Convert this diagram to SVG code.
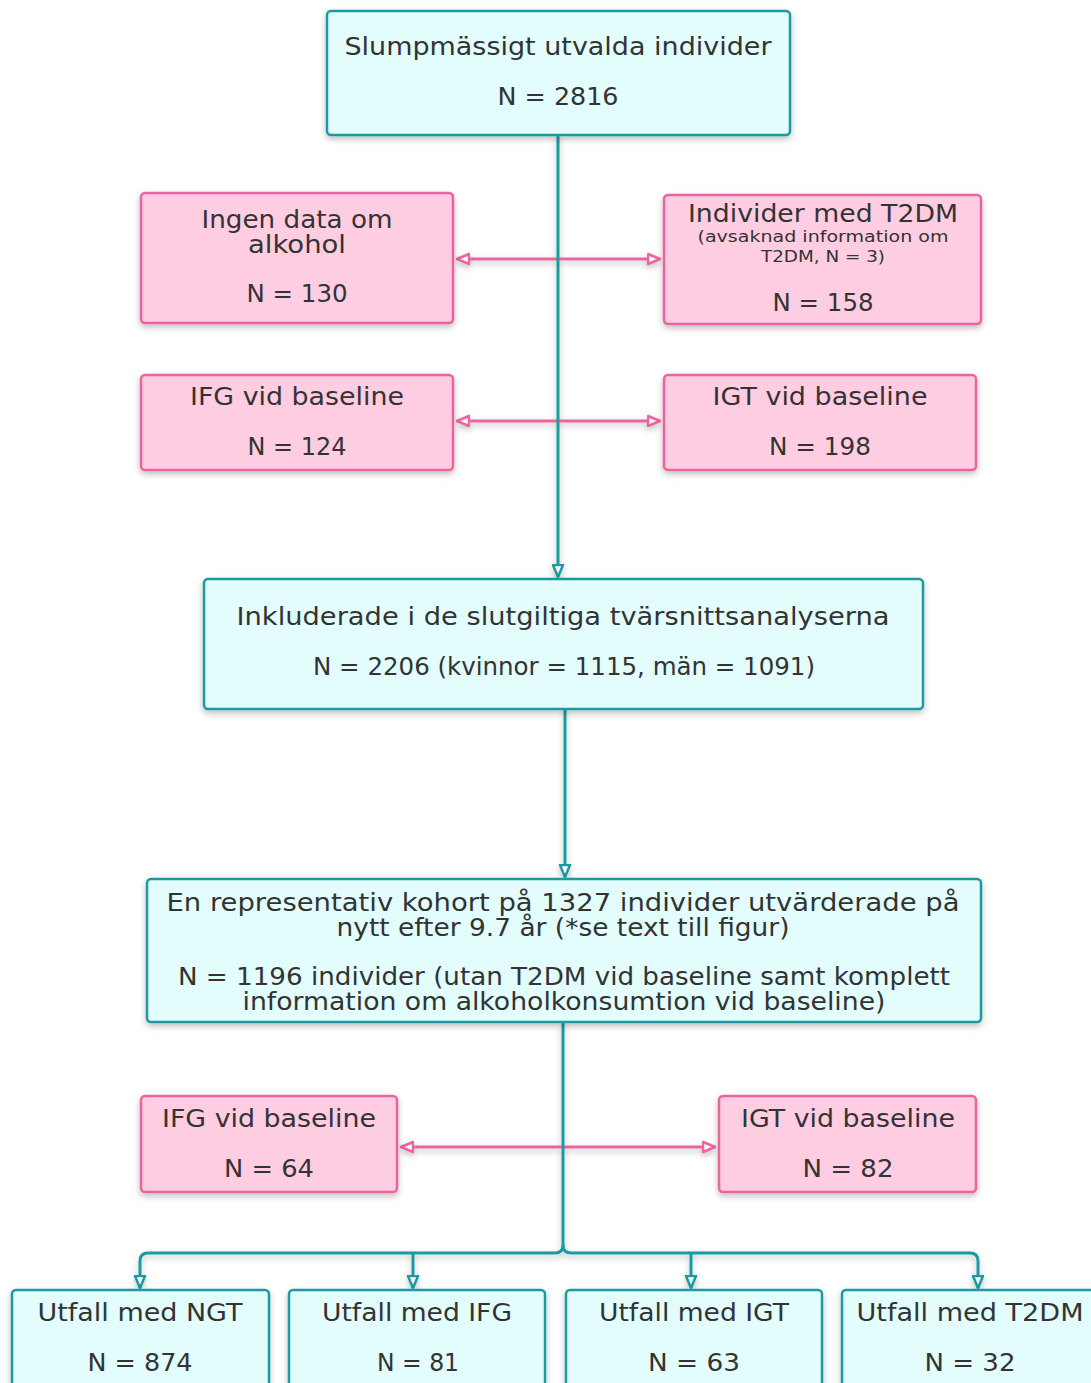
<svg xmlns="http://www.w3.org/2000/svg" width="1091" height="1383" viewBox="0 0 1091 1383">
<style>
.c{fill:#e2fdfc;stroke:#1a9aa2;stroke-width:2.5}
.p{fill:#ffcde2;stroke:#ee62a0;stroke-width:2.5}
text{font-family:"DejaVu Sans","Liberation Sans",sans-serif;fill:#333;text-anchor:middle;font-size:24px}
.s{font-size:15px}
.tl{fill:none;stroke:#1a9aa2;stroke-width:3}
.pl{fill:none;stroke:#ee62a0;stroke-width:3}
</style>
<defs>
<filter id="sh" x="-10%" y="-10%" width="120%" height="130%">
<feDropShadow dx="0" dy="3" stdDeviation="3" flood-color="#000" flood-opacity="0.25"/>
</filter>
<marker id="ta" viewBox="0 0 14 14" markerWidth="14" markerHeight="14" refX="13" refY="7" orient="auto" markerUnits="userSpaceOnUse">
<path d="M1,2 L13,7 L1,12 z" fill="#fff" stroke="#1a9aa2" stroke-width="2.5" stroke-linejoin="round"/>
</marker>
<marker id="pa" viewBox="0 0 14 14" markerWidth="14" markerHeight="14" refX="13" refY="7" orient="auto-start-reverse" markerUnits="userSpaceOnUse">
<path d="M1,2 L13,7 L1,12 z" fill="#fff" stroke="#ee62a0" stroke-width="2.5" stroke-linejoin="round"/>
</marker>
</defs>

<g id="connectors" filter="url(#sh)">
<path class="pl" d="M457 259 H660" marker-start="url(#pa)" marker-end="url(#pa)"/>
<path class="pl" d="M457 421 H660" marker-start="url(#pa)" marker-end="url(#pa)"/>
<path class="pl" d="M401 1147 H715" marker-start="url(#pa)" marker-end="url(#pa)"/>
<path class="tl" d="M558 135 V577" marker-end="url(#ta)"/>
<path class="tl" d="M565 709 V877" marker-end="url(#ta)"/>
<path class="tl" d="M563 1022 V1245 Q563 1253 555 1253 H148 Q140 1253 140 1261 V1288" marker-end="url(#ta)"/>
<path class="tl" d="M563 1245 Q563 1253 571 1253 H970 Q978 1253 978 1261 V1288" marker-end="url(#ta)"/>
<path class="tl" d="M413 1253 V1288" marker-end="url(#ta)"/>
<path class="tl" d="M691 1253 V1288" marker-end="url(#ta)"/>
</g>

<g id="n1">
<rect class="c" x="327" y="11" width="463" height="124" rx="4" filter="url(#sh)"/>
<text x="558" y="55" textLength="427" lengthAdjust="spacingAndGlyphs">Slumpmässigt utvalda individer</text>
<text x="558" y="105" textLength="121" lengthAdjust="spacingAndGlyphs">N = 2816</text>
</g>

<g id="n2">
<rect class="p" x="141" y="193" width="312" height="130" rx="4" filter="url(#sh)"/>
<text x="297" y="228" textLength="191" lengthAdjust="spacingAndGlyphs">Ingen data om</text>
<text x="297" y="253" textLength="98" lengthAdjust="spacingAndGlyphs">alkohol</text>
<text x="297" y="302" textLength="101" lengthAdjust="spacingAndGlyphs">N = 130</text>
</g>

<g id="n3">
<rect class="p" x="664" y="195" width="317" height="129" rx="4" filter="url(#sh)"/>
<text x="823" y="222" textLength="270" lengthAdjust="spacingAndGlyphs">Individer med T2DM</text>
<text class="s" x="823" y="242" textLength="251" lengthAdjust="spacingAndGlyphs">(avsaknad information om</text>
<text class="s" x="823" y="262" textLength="124" lengthAdjust="spacingAndGlyphs">T2DM, N = 3)</text>
<text x="823" y="311" textLength="101" lengthAdjust="spacingAndGlyphs">N = 158</text>
</g>

<g id="n4">
<rect class="p" x="141" y="375" width="312" height="95" rx="4" filter="url(#sh)"/>
<text x="297" y="405" textLength="214" lengthAdjust="spacingAndGlyphs">IFG vid baseline</text>
<text x="297" y="455" textLength="99" lengthAdjust="spacingAndGlyphs">N = 124</text>
</g>

<g id="n5">
<rect class="p" x="664" y="375" width="312" height="95" rx="4" filter="url(#sh)"/>
<text x="820" y="405" textLength="215" lengthAdjust="spacingAndGlyphs">IGT vid baseline</text>
<text x="820" y="455" textLength="102" lengthAdjust="spacingAndGlyphs">N = 198</text>
</g>

<g id="n6">
<rect class="c" x="204" y="579" width="719" height="130" rx="4" filter="url(#sh)"/>
<text x="563" y="625" textLength="653" lengthAdjust="spacingAndGlyphs">Inkluderade i de slutgiltiga tvärsnittsanalyserna</text>
<text x="564" y="675" textLength="502" lengthAdjust="spacingAndGlyphs">N = 2206 (kvinnor = 1115, män = 1091)</text>
</g>

<g id="n7">
<rect class="c" x="147" y="879" width="834" height="143" rx="4" filter="url(#sh)"/>
<text x="563" y="911" textLength="793" lengthAdjust="spacingAndGlyphs">En representativ kohort på 1327 individer utvärderade på</text>
<text x="563" y="936" textLength="453" lengthAdjust="spacingAndGlyphs">nytt efter 9.7 år (*se text till figur)</text>
<text x="564" y="985" textLength="772" lengthAdjust="spacingAndGlyphs">N = 1196 individer (utan T2DM vid baseline samt komplett</text>
<text x="564" y="1010" textLength="643" lengthAdjust="spacingAndGlyphs">information om alkoholkonsumtion vid baseline)</text>
</g>

<g id="n8">
<rect class="p" x="141" y="1096" width="256" height="96" rx="4" filter="url(#sh)"/>
<text x="269" y="1127" textLength="214" lengthAdjust="spacingAndGlyphs">IFG vid baseline</text>
<text x="269" y="1177" textLength="90" lengthAdjust="spacingAndGlyphs">N = 64</text>
</g>

<g id="n9">
<rect class="p" x="719" y="1096" width="257" height="96" rx="4" filter="url(#sh)"/>
<text x="848" y="1127" textLength="214" lengthAdjust="spacingAndGlyphs">IGT vid baseline</text>
<text x="848" y="1177" textLength="91" lengthAdjust="spacingAndGlyphs">N = 82</text>
</g>

<g id="n10">
<rect class="c" x="12" y="1290" width="257" height="120" rx="4" filter="url(#sh)"/>
<text x="140" y="1321" textLength="205" lengthAdjust="spacingAndGlyphs">Utfall med NGT</text>
<text x="140" y="1371" textLength="105" lengthAdjust="spacingAndGlyphs">N = 874</text>
</g>

<g id="n11">
<rect class="c" x="289" y="1290" width="256" height="120" rx="4" filter="url(#sh)"/>
<text x="417" y="1321" textLength="190" lengthAdjust="spacingAndGlyphs">Utfall med IFG</text>
<text x="418" y="1371" textLength="82" lengthAdjust="spacingAndGlyphs">N = 81</text>
</g>

<g id="n12">
<rect class="c" x="566" y="1290" width="256" height="120" rx="4" filter="url(#sh)"/>
<text x="694" y="1321" textLength="190" lengthAdjust="spacingAndGlyphs">Utfall med IGT</text>
<text x="694" y="1371" textLength="92" lengthAdjust="spacingAndGlyphs">N = 63</text>
</g>

<g id="n13">
<rect class="c" x="842" y="1290" width="260" height="120" rx="4" filter="url(#sh)"/>
<text x="970" y="1321" textLength="227" lengthAdjust="spacingAndGlyphs">Utfall med T2DM</text>
<text x="970" y="1371" textLength="91" lengthAdjust="spacingAndGlyphs">N = 32</text>
</g>
</svg>
